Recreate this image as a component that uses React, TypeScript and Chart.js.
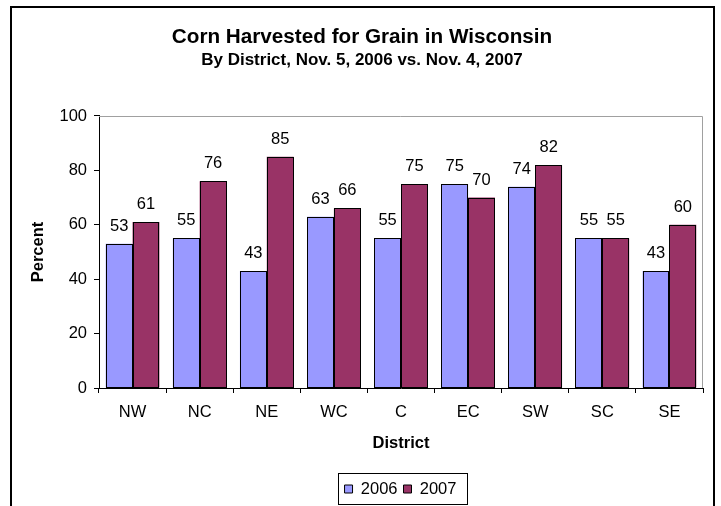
import React, { useEffect, useRef } from "react";
import { Chart, registerables } from "chart.js";

Chart.register(...registerables);

const districts = ["NW", "NC", "NE", "WC", "C", "EC", "SW", "SC", "SE"];
const values2006 = [53, 55, 43, 63, 55, 75, 74, 55, 43];
const values2007 = [61, 76, 85, 66, 75, 70, 82, 55, 60];
const seriesLabels = ["2006", "2007"];
const yMin = 0;
const yMax = 100;
const yStep = 20;
const titleText = "Corn Harvested for Grain in Wisconsin";
const subtitleText = "By District, Nov. 5, 2006 vs. Nov. 4, 2007";
const xTitle = "District";
const yTitle = "Percent";

const FONT = "'Liberation Sans', Arial, Helvetica, sans-serif";
const COLOR_2006 = "#9999FF";
const COLOR_2007 = "#993366";
const BASE_SIZE = 16.5;

const framePlugin = {
  id: "frameDecor",
  afterLayout(chart: any) {
    for (const b of chart.boxes) {
      if (b.options && (b.options.text === titleText || b.options.text === subtitleText)) {
        b.left = 0;
        b.right = 724;
        b.width = 724;
      }
    }
    const lg = chart.legend;
    if (lg) {
      lg.left = 98;
      lg.right = 703;
      lg.width = lg.right - lg.left;
      lg.top = 474.75;
      lg.bottom = lg.top + lg.height;
    }
  },
  beforeDraw(chart: any) {
    const { ctx } = chart;
    ctx.save();
    ctx.fillStyle = "#ffffff";
    ctx.fillRect(0, 0, chart.width, chart.height);
    ctx.strokeStyle = "#000000";
    ctx.lineWidth = 2;
    ctx.strokeRect(11, 7, 703, 560);
    ctx.restore();
  },
  beforeDatasetsDraw(chart: any) {
    const { ctx, chartArea: a } = chart;
    ctx.save();
    ctx.strokeStyle = "#a0a0a0";
    ctx.lineWidth = 1;
    const t = Math.round(a.top) + 0.5;
    const r = Math.round(a.right) - 0.5;
    ctx.beginPath();
    ctx.moveTo(a.left, t);
    ctx.lineTo(r, t);
    ctx.lineTo(r, a.bottom);
    ctx.stroke();
    ctx.restore();
  },
  afterDatasetsDraw(chart: any) {
    const { ctx } = chart;
    ctx.save();
    // crisp black outlines around every bar, from the bar elements' own geometry
    ctx.strokeStyle = "#000000";
    ctx.lineWidth = 1;
    chart.data.datasets.forEach((_ds: any, di: number) => {
      const meta = chart.getDatasetMeta(di);
      meta.data.forEach((el: any) => {
        const l = Math.round(el.x - el.width / 2) + 0.5;
        const r = Math.round(el.x + el.width / 2) - 0.5;
        const t = Math.round(el.y) + 0.5;
        const b = Math.round(el.base) - 0.5;
        ctx.strokeRect(l, t, r - l, b - t);
      });
    });
    ctx.fillStyle = "#000000";
    ctx.font = `${BASE_SIZE}px ${FONT}`;
    ctx.textAlign = "center";
    ctx.textBaseline = "alphabetic";
    chart.data.datasets.forEach((ds: any, di: number) => {
      const meta = chart.getDatasetMeta(di);
      meta.data.forEach((el: any, i: number) => {
        ctx.fillText(String(ds.data[i]), el.x, el.y - 13);
      });
    });
    ctx.restore();
  },
  afterDraw(chart: any) {
    const legend = chart.legend;
    if (!legend || !legend.legendHitBoxes || !legend.legendHitBoxes.length) return;
    const hb = legend.legendHitBoxes;
    const first = hb[0];
    const last = hb[hb.length - 1];
    const { ctx } = chart;
    ctx.save();
    ctx.strokeStyle = "#000000";
    ctx.lineWidth = 1;
    const l = Math.round(first.left - 7) + 0.5;
    const r = Math.round(last.left + last.width + 11) + 0.5;
    const t = Math.round(first.top - 7.5) + 0.5;
    const b = Math.round(first.top + first.height + 7) + 0.5;
    ctx.strokeRect(l, t, r - l, b - t);
    ctx.restore();
  },
};

export default function App() {
  const canvasRef = useRef<HTMLCanvasElement | null>(null);

  useEffect(() => {
    if (!canvasRef.current) return;
    const chart = new Chart(canvasRef.current, {
      type: "bar",
      data: {
        labels: districts,
        datasets: [
          {
            label: seriesLabels[0],
            data: values2006,
            backgroundColor: COLOR_2006,
            borderColor: "#000000",
            borderWidth: 0,
          },
          {
            label: seriesLabels[1],
            data: values2007,
            backgroundColor: COLOR_2007,
            borderColor: "#000000",
            borderWidth: 0,
          },
        ],
      },
      options: {
        responsive: false,
        animation: false,
        events: [],
        datasets: {
          bar: { categoryPercentage: 0.8, barPercentage: 1.0 },
        },
        layout: { padding: { left: 0, right: 18, top: 0, bottom: 0 } },
        plugins: {
          title: {
            display: true,
            text: titleText,
            color: "#000000",
            font: { family: FONT, size: 20.7, weight: "bold" },
            padding: { top: 24.4, bottom: 0 },
          },
          subtitle: {
            display: true,
            text: subtitleText,
            color: "#000000",
            font: { family: FONT, size: 17, weight: "bold" },
            padding: { top: 0.6, bottom: 45.76 },
          },
          legend: {
            display: true,
            position: "bottom",
            labels: {
              color: "#000000",
              font: { family: FONT, size: BASE_SIZE },
              boxWidth: 8,
              boxHeight: 8,
              padding: 6,
              generateLabels: (c: any) =>
                (Chart as any).defaults.plugins.legend.labels
                  .generateLabels(c)
                  .map((item: any) => ({ ...item, lineWidth: 1, strokeStyle: "#000000" })),
            },
          },
          tooltip: { enabled: false },
        },
        scales: {
          x: {
            offset: true,
            grid: {
              display: true,
              offset: true,
              drawOnChartArea: false,
              drawTicks: true,
              tickLength: 5,
              color: "#000000",
              tickColor: "#000000",
            },
            border: { display: true, color: "#000000", width: 1 },
            ticks: {
              color: "#000000",
              font: { family: FONT, size: BASE_SIZE },
              padding: 9.6,
              maxRotation: 0,
            },
            title: {
              display: true,
              text: xTitle,
              color: "#000000",
              font: { family: FONT, size: BASE_SIZE, weight: "bold" },
              padding: { top: 0, bottom: 20.6 },
            },
            afterFit(scale: any) {
              scale.height = 85.5;
            },
          },
          y: {
            min: yMin,
            max: yMax,
            grid: {
              display: true,
              drawOnChartArea: false,
              drawTicks: true,
              tickLength: 5,
              color: "#000000",
              tickColor: "#000000",
            },
            border: { display: true, color: "#000000", width: 1 },
            ticks: {
              stepSize: yStep,
              color: "#000000",
              font: { family: FONT, size: BASE_SIZE },
              padding: 7,
            },
            title: {
              display: true,
              text: yTitle,
              color: "#000000",
              font: { family: FONT, size: BASE_SIZE, weight: "bold" },
              padding: { top: 29, bottom: 0 },
            },
            afterFit(scale: any) {
              scale.width = 99;
            },
          },
        },
      },
      plugins: [framePlugin],
    } as any);
    return () => chart.destroy();
  }, []);

  return (
    <div style={{ position: "absolute", left: 0, top: 0, width: 721, height: 506, background: "#fff" }}>
      <canvas ref={canvasRef} width={721} height={506} style={{ display: "block" }} />
    </div>
  );
}
